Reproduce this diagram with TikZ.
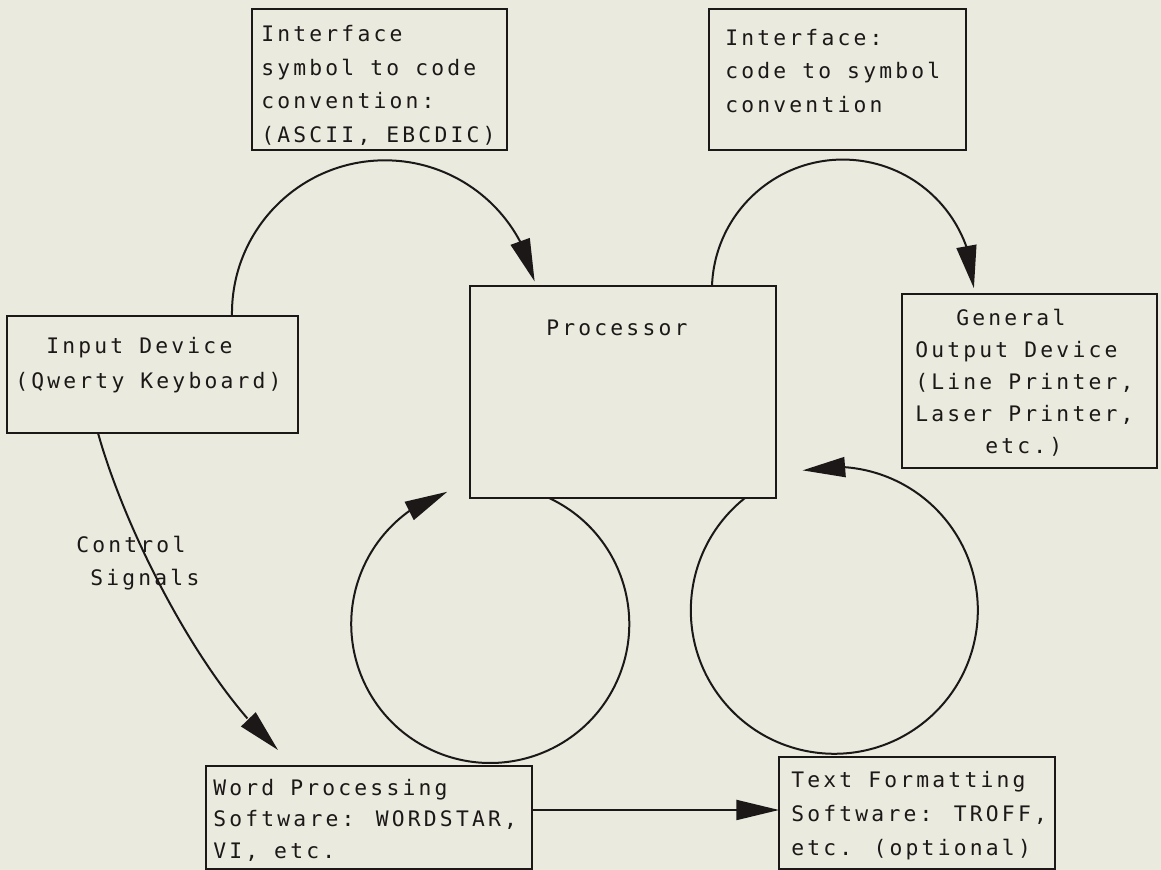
\documentclass[tikz,border=0pt]{standalone}
\usepackage{fontspec}
\newfontfamily\plotfont[LetterSpace=15]{DejaVu Sans Mono}
\usetikzlibrary{arrows.meta,calc,bending}
\definecolor{bgc}{RGB}{234,234,222}
\definecolor{ink}{RGB}{28,24,24}
\newcommand\lstrut{\rule{0pt}{12pt}}
\tikzset{
  bx/.style 2 args={draw=ink, line width=1.6pt, minimum width=#1*0.75pt,
    minimum height=#2*0.75pt, anchor=north west, inner sep=0pt, outer sep=0pt},
  txt/.style={font=\plotfont\fontsize{16pt}{#1}\selectfont, align=left,
    anchor=north west, inner sep=0pt, text=ink},
  conn/.style={draw=ink, line width=1.5pt, -{Triangle[length=32pt,width=15pt]}},
}
\begin{document}
\begin{tikzpicture}[x=0.75pt,y=0.75pt]
\useasboundingbox (0,0) rectangle (1161,870);
\fill[bgc] (0,0) rectangle (1161,870);
\clip (0,0) rectangle (1161,870);

% boxes
\node[bx={255}{141}] (i1) at (252,861) {};
\node[bx={257}{141}] (i2) at (709,861) {};
\node[bx={291}{117}] (in) at (7,554) {};
\node[bx={306}{212}] (pr) at (470,584) {};
\node[bx={255}{174}] (out) at (902,576) {};
\node[bx={326}{103}] (wp) at (206,104) {};
\node[bx={276}{112}] (tf) at (779,113) {};

% texts
\node[txt=25.25pt] (i1t) at (261,845) {\lstrut Interface\\symbol to code\\convention:\\(ASCII, EBCDIC)};
\node[txt=25.1pt] (i2t) at (725,841) {\lstrut Interface:\\code to symbol\\convention};
\node[txt=25pt] (prt) at (546,551) {\lstrut Processor};
\node[txt=26.25pt] (int) at (15,533) {\lstrut\hspace*{23.25pt}Input Device\\(Qwerty Keyboard)};
\node[txt=24pt] (outt) at (915,561) {\lstrut\hspace*{30.75pt}General\\Output Device\\(Line Printer,\\Laser Printer,\\\hspace*{52.5pt}etc.)};
\node[txt=24.75pt] (ctl) at (76,334) {\lstrut Control\\\hspace*{10.5pt}Signals};
\node[txt=23.6pt] (wpt) at (213,91) {\lstrut Word Processing\\Software: WORDSTAR,\\VI, etc.};
\node[txt=25.5pt] (tft) at (791,99) {\lstrut Text Formatting\\Software: TROFF,\\etc. (optional)};

% connectors
\draw[conn] ($(in.north west)+(225,0)$) arc[start angle=181, end angle=12, radius=153];
\draw[conn] ($(pr.north west)+(242,0)$) arc[start angle=178, end angle=1, radius=131];
\draw[conn] ($(pr.south west)+(79,0)$) arc[start angle=65, end angle=-252, radius=139];
\draw[conn] ($(pr.south west)+(275,0)$) arc[start angle=128.5, end angle=462.8, radius=143.5];
\coordinate (wpin) at ($(wp.north west)+(72,16)$);
\draw[conn] ($(in.south west)+(91,0)$) .. controls (125,340) and (200,190) .. (wpin);
\coordinate (ay) at (0,60);
\draw[conn] (wp.east |- ay) -- (tf.west |- ay);
\end{tikzpicture}
\end{document}
